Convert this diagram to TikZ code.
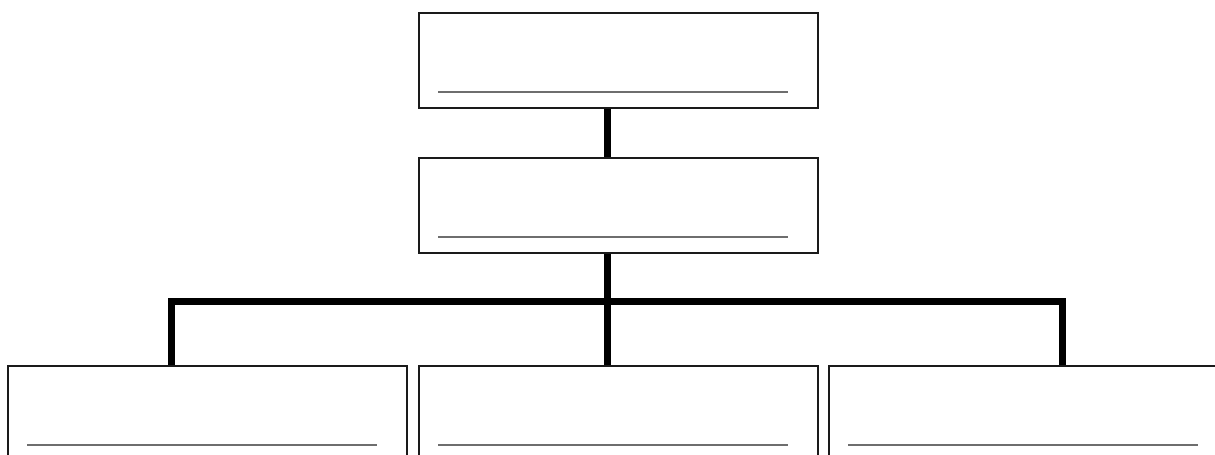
\documentclass[tikz,border=0pt]{standalone}
\usetikzlibrary{calc}
\definecolor{boxline}{HTML}{1A1A1A}
\definecolor{fillline}{HTML}{6E6E6E}
\tikzset{
  orgbox/.style  = {rectangle, draw=boxline, fill=white, line width=0.5mm,
                    minimum width=99.75mm, minimum height=23.75mm,
                    inner sep=0pt, anchor=north west},
  blank/.style   = {draw=fillline, line width=0.5mm},
  tie/.style     = {draw=black, line width=1.75mm, line join=miter},
}
% grey writing line inside a box, 80px below its top edge
\newcommand{\blankline}[1]{%
  \draw[blank] ($(#1.north west)+(20,80)$) -- ($(#1.north east)+(-31,80)$);}

\begin{document}
\begin{tikzpicture}[x=0.25mm, y=-0.25mm]
    \useasboundingbox (0,0) rectangle (1215,455);
    % boxes
    \node[orgbox] (chief)  at (418,12)  {};
    \node[orgbox] (deputy) at (418,157) {};
    \node[orgbox] (left)   at (7,365)   {};
    \node[orgbox] (mid)    at (418,365) {};
    \node[orgbox] (right)  at (828,365) {};
    \blankline{chief}
    \blankline{deputy}
    \blankline{left}
    \blankline{mid}
    \blankline{right}
    % connectors
    \coordinate (trunk) at (607,302);
    \coordinate (busL) at (171,302);
    \coordinate (busR) at (1062,302);
    \draw[tie] (chief.south -| trunk) -- (deputy.north -| trunk);
    \draw[tie] (deputy.south -| trunk) -- (mid.north -| trunk);
    \draw[tie] (busL |- left.north) -- (busL) -- (busR) -- (busR |- right.north);
\end{tikzpicture}
\end{document}
